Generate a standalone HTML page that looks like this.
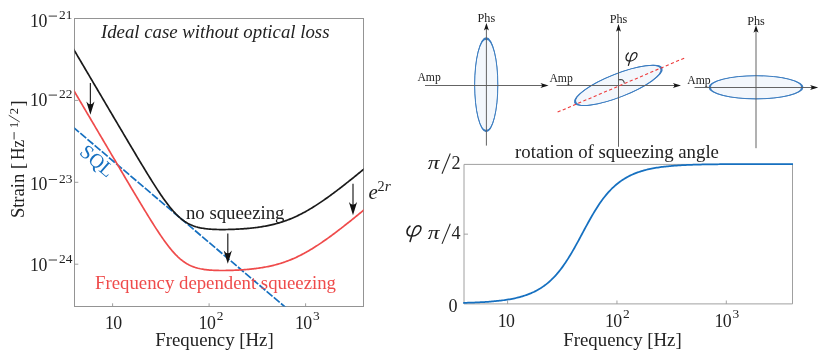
<!DOCTYPE html>
<html><head><meta charset="utf-8"><title>fig</title><style>html,body{margin:0;padding:0;background:#fff}body{width:830px;height:359px;overflow:hidden}svg{will-change:transform;opacity:0.9999}</style></head><body>
<svg width="830" height="359" viewBox="0 0 830 359" style="display:block;font-family:'Liberation Serif',serif" fill="#222">
<defs><clipPath id="cl"><rect x="74.5" y="18.5" width="289.0" height="288.0"/></clipPath><clipPath id="cr"><rect x="463.0" y="162.4" width="329.5" height="142.49999999999997"/></clipPath></defs>
<rect width="830" height="359" fill="#fff"/>
<rect x="74.5" y="18.5" width="289.0" height="288.0" fill="none" stroke="#949494" stroke-width="1"/>
<line x1="112.60" y1="306.5" x2="112.60" y2="303.3" stroke="#949494" stroke-width="0.9"/>
<line x1="209.10" y1="306.5" x2="209.10" y2="303.3" stroke="#949494" stroke-width="0.9"/>
<line x1="305.60" y1="306.5" x2="305.60" y2="303.3" stroke="#949494" stroke-width="0.9"/>
<line x1="74.5" y1="18.50" x2="78.3" y2="18.50" stroke="#949494" stroke-width="0.9"/>
<line x1="74.5" y1="100.40" x2="78.3" y2="100.40" stroke="#949494" stroke-width="0.9"/>
<line x1="74.5" y1="182.30" x2="78.3" y2="182.30" stroke="#949494" stroke-width="0.9"/>
<line x1="74.5" y1="264.20" x2="78.3" y2="264.20" stroke="#949494" stroke-width="0.9"/>
<g clip-path="url(#cl)" fill="none" stroke-linejoin="round">
<path d="M73.14,127.12 L305.60,324.41" stroke="#1670c0" stroke-width="1.7" stroke-dasharray="7.7,1.7"/>
<path d="M73.14,89.38 L74.26,91.29 L75.39,93.20 L76.52,95.11 L77.64,97.02 L78.77,98.93 L79.89,100.84 L81.02,102.75 L82.14,104.66 L83.27,106.57 L84.40,108.49 L85.52,110.40 L86.65,112.31 L87.77,114.22 L88.90,116.13 L90.03,118.04 L91.15,119.95 L92.28,121.86 L93.40,123.77 L94.53,125.68 L95.65,127.59 L96.78,129.50 L97.91,131.41 L99.03,133.32 L100.16,135.23 L101.28,137.14 L102.41,139.05 L103.54,140.96 L104.66,142.87 L105.79,144.78 L106.91,146.69 L108.04,148.60 L109.17,150.51 L110.29,152.42 L111.42,154.33 L112.54,156.24 L113.67,158.15 L114.79,160.05 L115.92,161.96 L117.05,163.87 L118.17,165.77 L119.30,167.68 L120.42,169.59 L121.55,171.49 L122.68,173.39 L123.80,175.30 L124.93,177.20 L126.05,179.10 L127.18,181.00 L128.30,182.90 L129.43,184.80 L130.56,186.69 L131.68,188.59 L132.81,190.48 L133.93,192.37 L135.06,194.26 L136.19,196.14 L137.31,198.03 L138.44,199.91 L139.56,201.78 L140.69,203.65 L141.81,205.52 L142.94,207.38 L144.07,209.24 L145.19,211.09 L146.32,212.93 L147.44,214.77 L148.57,216.60 L149.70,218.42 L150.82,220.23 L151.95,222.03 L153.07,223.81 L154.20,225.59 L155.32,227.35 L156.45,229.09 L157.58,230.82 L158.70,232.52 L159.83,234.21 L160.95,235.87 L162.08,237.52 L163.21,239.13 L164.33,240.72 L165.46,242.27 L166.58,243.80 L167.71,245.29 L168.84,246.74 L169.96,248.15 L171.09,249.53 L172.21,250.86 L173.34,252.14 L174.46,253.38 L175.59,254.58 L176.72,255.72 L177.84,256.81 L178.97,257.85 L180.09,258.84 L181.22,259.78 L182.35,260.67 L183.47,261.50 L184.60,262.29 L185.72,263.02 L186.85,263.71 L187.97,264.35 L189.10,264.94 L190.23,265.49 L191.35,266.00 L192.48,266.46 L193.60,266.89 L194.73,267.29 L195.86,267.65 L196.98,267.97 L198.11,268.27 L199.23,268.54 L200.36,268.79 L201.48,269.01 L202.61,269.21 L203.74,269.39 L204.86,269.55 L205.99,269.69 L207.11,269.82 L208.24,269.93 L209.37,270.03 L210.49,270.12 L211.62,270.20 L212.74,270.26 L213.87,270.32 L215.00,270.37 L216.12,270.40 L217.25,270.44 L218.37,270.46 L219.50,270.48 L220.62,270.49 L221.75,270.50 L222.88,270.50 L224.00,270.49 L225.13,270.48 L226.25,270.47 L227.38,270.45 L228.51,270.42 L229.63,270.40 L230.76,270.37 L231.88,270.33 L233.01,270.29 L234.13,270.25 L235.26,270.20 L236.39,270.15 L237.51,270.09 L238.64,270.03 L239.76,269.97 L240.89,269.90 L242.02,269.83 L243.14,269.75 L244.27,269.67 L245.39,269.58 L246.52,269.49 L247.64,269.39 L248.77,269.29 L249.90,269.19 L251.02,269.07 L252.15,268.95 L253.27,268.83 L254.40,268.70 L255.53,268.56 L256.65,268.42 L257.78,268.27 L258.90,268.11 L260.03,267.95 L261.16,267.78 L262.28,267.60 L263.41,267.41 L264.53,267.21 L265.66,267.01 L266.78,266.79 L267.91,266.57 L269.04,266.34 L270.16,266.10 L271.29,265.84 L272.41,265.58 L273.54,265.31 L274.67,265.03 L275.79,264.73 L276.92,264.43 L278.04,264.11 L279.17,263.78 L280.29,263.45 L281.42,263.09 L282.55,262.73 L283.67,262.36 L284.80,261.97 L285.92,261.57 L287.05,261.16 L288.18,260.73 L289.30,260.29 L290.43,259.84 L291.55,259.38 L292.68,258.90 L293.80,258.41 L294.93,257.91 L296.06,257.40 L297.18,256.87 L298.31,256.33 L299.43,255.78 L300.56,255.21 L301.69,254.63 L302.81,254.04 L303.94,253.44 L305.06,252.83 L306.19,252.20 L307.32,251.57 L308.44,250.92 L309.57,250.26 L310.69,249.59 L311.82,248.91 L312.94,248.22 L314.07,247.51 L315.20,246.80 L316.32,246.08 L317.45,245.35 L318.57,244.61 L319.70,243.86 L320.83,243.11 L321.95,242.34 L323.08,241.57 L324.20,240.79 L325.33,240.00 L326.45,239.20 L327.58,238.40 L328.71,237.59 L329.83,236.78 L330.96,235.95 L332.08,235.12 L333.21,234.29 L334.34,233.45 L335.46,232.61 L336.59,231.76 L337.71,230.90 L338.84,230.04 L339.96,229.18 L341.09,228.31 L342.22,227.43 L343.34,226.56 L344.47,225.68 L345.59,224.79 L346.72,223.90 L347.85,223.01 L348.97,222.12 L350.10,221.22 L351.22,220.32 L352.35,219.42 L353.48,218.51 L354.60,217.61 L355.73,216.70 L356.85,215.78 L357.98,214.87 L359.10,213.95 L360.23,213.03 L361.36,212.11 L362.48,211.19 L363.61,210.27 L364.73,209.34" stroke="#ef4b4b" stroke-width="1.7"/>
<path d="M73.14,48.43 L74.26,50.34 L75.39,52.25 L76.52,54.16 L77.64,56.07 L78.77,57.98 L79.89,59.89 L81.02,61.80 L82.14,63.71 L83.27,65.62 L84.40,67.54 L85.52,69.45 L86.65,71.36 L87.77,73.27 L88.90,75.18 L90.03,77.09 L91.15,79.00 L92.28,80.91 L93.40,82.82 L94.53,84.73 L95.65,86.64 L96.78,88.55 L97.91,90.46 L99.03,92.37 L100.16,94.28 L101.28,96.19 L102.41,98.10 L103.54,100.01 L104.66,101.92 L105.79,103.83 L106.91,105.74 L108.04,107.65 L109.17,109.56 L110.29,111.47 L111.42,113.38 L112.54,115.29 L113.67,117.20 L114.79,119.10 L115.92,121.01 L117.05,122.92 L118.17,124.82 L119.30,126.73 L120.42,128.64 L121.55,130.54 L122.68,132.44 L123.80,134.35 L124.93,136.25 L126.05,138.15 L127.18,140.05 L128.30,141.95 L129.43,143.85 L130.56,145.74 L131.68,147.64 L132.81,149.53 L133.93,151.42 L135.06,153.31 L136.19,155.19 L137.31,157.08 L138.44,158.96 L139.56,160.83 L140.69,162.70 L141.81,164.57 L142.94,166.43 L144.07,168.29 L145.19,170.14 L146.32,171.98 L147.44,173.82 L148.57,175.65 L149.70,177.47 L150.82,179.28 L151.95,181.08 L153.07,182.86 L154.20,184.64 L155.32,186.40 L156.45,188.14 L157.58,189.87 L158.70,191.57 L159.83,193.26 L160.95,194.92 L162.08,196.57 L163.21,198.18 L164.33,199.77 L165.46,201.32 L166.58,202.85 L167.71,204.34 L168.84,205.79 L169.96,207.20 L171.09,208.58 L172.21,209.91 L173.34,211.19 L174.46,212.43 L175.59,213.63 L176.72,214.77 L177.84,215.86 L178.97,216.90 L180.09,217.89 L181.22,218.83 L182.35,219.72 L183.47,220.55 L184.60,221.34 L185.72,222.07 L186.85,222.76 L187.97,223.40 L189.10,223.99 L190.23,224.54 L191.35,225.05 L192.48,225.51 L193.60,225.94 L194.73,226.34 L195.86,226.70 L196.98,227.02 L198.11,227.32 L199.23,227.59 L200.36,227.84 L201.48,228.06 L202.61,228.26 L203.74,228.44 L204.86,228.60 L205.99,228.74 L207.11,228.87 L208.24,228.98 L209.37,229.08 L210.49,229.17 L211.62,229.25 L212.74,229.31 L213.87,229.37 L215.00,229.42 L216.12,229.45 L217.25,229.49 L218.37,229.51 L219.50,229.53 L220.62,229.54 L221.75,229.55 L222.88,229.55 L224.00,229.54 L225.13,229.53 L226.25,229.52 L227.38,229.50 L228.51,229.47 L229.63,229.45 L230.76,229.42 L231.88,229.38 L233.01,229.34 L234.13,229.30 L235.26,229.25 L236.39,229.20 L237.51,229.14 L238.64,229.08 L239.76,229.02 L240.89,228.95 L242.02,228.88 L243.14,228.80 L244.27,228.72 L245.39,228.63 L246.52,228.54 L247.64,228.44 L248.77,228.34 L249.90,228.24 L251.02,228.12 L252.15,228.00 L253.27,227.88 L254.40,227.75 L255.53,227.61 L256.65,227.47 L257.78,227.32 L258.90,227.16 L260.03,227.00 L261.16,226.83 L262.28,226.65 L263.41,226.46 L264.53,226.26 L265.66,226.06 L266.78,225.84 L267.91,225.62 L269.04,225.39 L270.16,225.15 L271.29,224.89 L272.41,224.63 L273.54,224.36 L274.67,224.08 L275.79,223.78 L276.92,223.48 L278.04,223.16 L279.17,222.83 L280.29,222.50 L281.42,222.14 L282.55,221.78 L283.67,221.41 L284.80,221.02 L285.92,220.62 L287.05,220.21 L288.18,219.78 L289.30,219.34 L290.43,218.89 L291.55,218.43 L292.68,217.95 L293.80,217.46 L294.93,216.96 L296.06,216.45 L297.18,215.92 L298.31,215.38 L299.43,214.83 L300.56,214.26 L301.69,213.68 L302.81,213.09 L303.94,212.49 L305.06,211.88 L306.19,211.25 L307.32,210.62 L308.44,209.97 L309.57,209.31 L310.69,208.64 L311.82,207.96 L312.94,207.27 L314.07,206.56 L315.20,205.85 L316.32,205.13 L317.45,204.40 L318.57,203.66 L319.70,202.91 L320.83,202.16 L321.95,201.39 L323.08,200.62 L324.20,199.84 L325.33,199.05 L326.45,198.25 L327.58,197.45 L328.71,196.64 L329.83,195.83 L330.96,195.00 L332.08,194.17 L333.21,193.34 L334.34,192.50 L335.46,191.66 L336.59,190.81 L337.71,189.95 L338.84,189.09 L339.96,188.23 L341.09,187.36 L342.22,186.48 L343.34,185.61 L344.47,184.73 L345.59,183.84 L346.72,182.95 L347.85,182.06 L348.97,181.17 L350.10,180.27 L351.22,179.37 L352.35,178.47 L353.48,177.56 L354.60,176.66 L355.73,175.75 L356.85,174.83 L357.98,173.92 L359.10,173.00 L360.23,172.08 L361.36,171.16 L362.48,170.24 L363.61,169.32 L364.73,168.39" stroke="#1a1a1a" stroke-width="1.7"/>
</g>
<text x="30.10" y="27.0" font-size="17.8" letter-spacing="-0.6">10</text><line x1="48.70" y1="16.1" x2="57.00" y2="16.1" stroke="#222" stroke-width="0.9"/><text x="58.90" y="19.1" font-size="13.4" letter-spacing="0.1">21</text>
<text x="30.10" y="106.0" font-size="17.8" letter-spacing="-0.6">10</text><line x1="48.70" y1="95.1" x2="57.00" y2="95.1" stroke="#222" stroke-width="0.9"/><text x="58.90" y="98.1" font-size="13.4" letter-spacing="0.1">22</text>
<text x="30.10" y="190.4" font-size="17.8" letter-spacing="-0.6">10</text><line x1="48.70" y1="179.5" x2="57.00" y2="179.5" stroke="#222" stroke-width="0.9"/><text x="58.90" y="182.5" font-size="13.4" letter-spacing="0.1">23</text>
<text x="30.10" y="270.9" font-size="17.8" letter-spacing="-0.6">10</text><line x1="48.70" y1="260.0" x2="57.00" y2="260.0" stroke="#222" stroke-width="0.9"/><text x="58.90" y="263.0" font-size="13.4" letter-spacing="0.1">24</text>
<text x="104.90" y="328.9" font-size="17.8" letter-spacing="-0.6">10</text>
<text x="198.60" y="329.0" font-size="17.8" letter-spacing="-0.6">10</text><text x="216.70" y="320.4" font-size="13.4" letter-spacing="0.1">2</text>
<text x="294.90" y="329.0" font-size="17.8" letter-spacing="-0.6">10</text><text x="313.00" y="320.4" font-size="13.4" letter-spacing="0.1">3</text>
<text x="214.5" y="345.5" font-size="18.8" text-anchor="middle">Frequency [Hz]</text>
<g transform="translate(24.3,216.8) rotate(-90)"><text x="-1.3" y="0" font-size="18.8" textLength="44.3" lengthAdjust="spacingAndGlyphs">Strain</text><text x="47.7" y="0" font-size="18.6">[</text><text x="56.8" y="0" font-size="17.8" textLength="20.0" lengthAdjust="spacingAndGlyphs">Hz</text><line x1="77.3" y1="-10.2" x2="84.7" y2="-10.2" stroke="#222" stroke-width="0.9"/><text x="88.9" y="-6.3" font-size="12.6">1</text><line x1="94.9" y1="-4.6" x2="101.6" y2="-15.6" stroke="#222" stroke-width="0.85"/><text x="102.6" y="-6.3" font-size="12.6">2</text><text x="110.2" y="0" font-size="18.6">]</text></g>
<text x="215.2" y="38.1" font-size="18.8" font-style="italic" text-anchor="middle">Ideal case without optical loss</text>
<text x="235.2" y="219" font-size="18.8" text-anchor="middle">no squeezing</text>
<text x="215.5" y="289" font-size="18.8" text-anchor="middle" fill="#ef4b4b">Frequency dependent squeezing</text>
<text transform="translate(78.6,153.6) rotate(41)" font-size="20" fill="#1670c0">SQL</text>
<text x="368.5" y="199.3" font-size="21" font-style="italic">e</text>
<text x="377.6" y="190.8" font-size="14.2" ><tspan>2</tspan><tspan font-style="italic" font-size="15.5">r</tspan></text>
<line x1="90.4" y1="83" x2="90.4" y2="106.3" stroke="#2a2a2a" stroke-width="1.25"/><path d="M90.4,114.8 L86.30000000000001,101.6 Q90.4,107.06 94.5,101.6 Z" fill="#111"/>
<line x1="227.8" y1="233.6" x2="227.8" y2="255.3" stroke="#2a2a2a" stroke-width="1.25"/><path d="M227.8,263.8 L223.70000000000002,250.60000000000002 Q227.8,256.06 231.9,250.60000000000002 Z" fill="#111"/>
<line x1="353" y1="183.8" x2="353" y2="206.8" stroke="#2a2a2a" stroke-width="1.25"/><path d="M353,215.3 L348.9,202.10000000000002 Q353,207.56000000000003 357.1,202.10000000000002 Z" fill="#111"/>
<path d="M464.0,164.4 H792.5 V303.9 H464.0 Z" fill="none" stroke="#a0a0a0" stroke-width="1"/>
<line x1="507.60" y1="303.9" x2="507.60" y2="300.5" stroke="#9a9a9a" stroke-width="0.9"/>
<line x1="616.95" y1="303.9" x2="616.95" y2="300.5" stroke="#9a9a9a" stroke-width="0.9"/>
<line x1="726.30" y1="303.9" x2="726.30" y2="300.5" stroke="#9a9a9a" stroke-width="0.9"/>
<line x1="464.0" y1="234.15" x2="468.0" y2="234.15" stroke="#9a9a9a" stroke-width="0.9"/>
<path d="M464.09,302.84 L465.35,302.80 L466.62,302.77 L467.89,302.73 L469.15,302.69 L470.42,302.65 L471.68,302.61 L472.95,302.56 L474.22,302.51 L475.48,302.46 L476.75,302.40 L478.02,302.35 L479.28,302.29 L480.55,302.22 L481.82,302.16 L483.08,302.08 L484.35,302.01 L485.62,301.93 L486.88,301.85 L488.15,301.76 L489.42,301.67 L490.68,301.57 L491.95,301.47 L493.22,301.36 L494.48,301.24 L495.75,301.12 L497.02,300.99 L498.28,300.86 L499.55,300.72 L500.82,300.57 L502.08,300.41 L503.35,300.25 L504.62,300.07 L505.88,299.88 L507.15,299.69 L508.42,299.48 L509.68,299.27 L510.95,299.04 L512.22,298.80 L513.48,298.54 L514.75,298.27 L516.02,297.99 L517.28,297.69 L518.55,297.38 L519.82,297.05 L521.08,296.70 L522.35,296.33 L523.62,295.94 L524.88,295.53 L526.15,295.10 L527.42,294.64 L528.68,294.16 L529.95,293.66 L531.22,293.13 L532.48,292.57 L533.75,291.98 L535.01,291.36 L536.28,290.70 L537.55,290.01 L538.81,289.29 L540.08,288.53 L541.35,287.73 L542.61,286.88 L543.88,286.00 L545.15,285.07 L546.41,284.09 L547.68,283.06 L548.95,281.99 L550.21,280.86 L551.48,279.68 L552.75,278.44 L554.01,277.15 L555.28,275.79 L556.55,274.38 L557.81,272.91 L559.08,271.37 L560.35,269.77 L561.61,268.11 L562.88,266.39 L564.15,264.60 L565.41,262.75 L566.68,260.83 L567.95,258.86 L569.21,256.83 L570.48,254.75 L571.75,252.61 L573.01,250.43 L574.28,248.20 L575.55,245.94 L576.81,243.64 L578.08,241.32 L579.35,238.97 L580.61,236.61 L581.88,234.24 L583.15,231.86 L584.41,229.50 L585.68,227.14 L586.95,224.80 L588.21,222.49 L589.48,220.21 L590.75,217.96 L592.01,215.76 L593.28,213.60 L594.55,211.49 L595.81,209.43 L597.08,207.43 L598.35,205.49 L599.61,203.61 L600.88,201.79 L602.14,200.03 L603.41,198.34 L604.68,196.71 L605.94,195.14 L607.21,193.64 L608.48,192.19 L609.74,190.81 L611.01,189.49 L612.28,188.22 L613.54,187.02 L614.81,185.86 L616.08,184.76 L617.34,183.71 L618.61,182.71 L619.88,181.76 L621.14,180.85 L622.41,179.99 L623.68,179.17 L624.94,178.38 L626.21,177.64 L627.48,176.94 L628.74,176.27 L630.01,175.63 L631.28,175.02 L632.54,174.45 L633.81,173.90 L635.08,173.39 L636.34,172.89 L637.61,172.43 L638.88,171.99 L640.14,171.57 L641.41,171.17 L642.68,170.79 L643.94,170.43 L645.21,170.09 L646.48,169.77 L647.74,169.46 L649.01,169.17 L650.28,168.90 L651.54,168.64 L652.81,168.39 L654.08,168.16 L655.34,167.93 L656.61,167.72 L657.88,167.52 L659.14,167.33 L660.41,167.16 L661.68,166.99 L662.94,166.82 L664.21,166.67 L665.48,166.53 L666.74,166.39 L668.01,166.26 L669.27,166.14 L670.54,166.02 L671.81,165.91 L673.07,165.81 L674.34,165.71 L675.61,165.61 L676.87,165.53 L678.14,165.44 L679.41,165.36 L680.67,165.29 L681.94,165.22 L683.21,165.15 L684.47,165.09 L685.74,165.03 L687.01,164.97 L688.27,164.92 L689.54,164.86 L690.81,164.82 L692.07,164.77 L693.34,164.73 L694.61,164.69 L695.87,164.65 L697.14,164.61 L698.41,164.58 L699.67,164.55 L700.94,164.52 L702.21,164.49 L703.47,164.46 L704.74,164.44 L706.01,164.42 L707.27,164.39 L708.54,164.37 L709.81,164.35 L711.07,164.34 L712.34,164.32 L713.61,164.30 L714.87,164.29 L716.14,164.27 L717.41,164.26 L718.67,164.25 L719.94,164.24 L721.21,164.23 L722.47,164.22 L723.74,164.21 L725.01,164.20 L726.27,164.19 L727.54,164.18 L728.81,164.18 L730.07,164.17 L731.34,164.17 L732.60,164.16 L733.87,164.16 L735.14,164.15 L736.40,164.15 L737.67,164.14 L738.94,164.14 L740.20,164.14 L741.47,164.13 L742.74,164.13 L744.00,164.13 L745.27,164.12 L746.54,164.12 L747.80,164.12 L749.07,164.12 L750.34,164.12 L751.60,164.12 L752.87,164.11 L754.14,164.11 L755.40,164.11 L756.67,164.11 L757.94,164.11 L759.20,164.11 L760.47,164.11 L761.74,164.11 L763.00,164.11 L764.27,164.11 L765.54,164.11 L766.80,164.10 L768.07,164.10 L769.34,164.10 L770.60,164.10 L771.87,164.10 L773.14,164.10 L774.40,164.10 L775.67,164.10 L776.94,164.10 L778.20,164.10 L779.47,164.10 L780.74,164.10 L782.00,164.10 L783.27,164.10 L784.54,164.10 L785.80,164.10 L787.07,164.10 L788.34,164.10 L789.60,164.10 L790.87,164.10 L792.14,164.10" fill="none" stroke="#1670c0" stroke-width="1.75" stroke-linejoin="round" stroke-linecap="square"/>
<text x="497.70" y="326.8" font-size="17.8" letter-spacing="-0.6">10</text>
<text x="604.90" y="326.8" font-size="17.8" letter-spacing="-0.6">10</text><text x="623.00" y="318.2" font-size="13.4" letter-spacing="0.1">2</text>
<text x="714.40" y="326.8" font-size="17.8" letter-spacing="-0.6">10</text><text x="732.50" y="318.2" font-size="13.4" letter-spacing="0.1">3</text>
<text x="622.5" y="345.5" font-size="18.8" text-anchor="middle">Frequency [Hz]</text>
<text x="617.0" y="157.6" font-size="18.8" text-anchor="middle">rotation of squeezing angle</text>
<text x="427.8" y="168.7" font-size="19.5" font-style="italic" textLength="11.8" lengthAdjust="spacingAndGlyphs">π</text><line x1="442.0" y1="173.7" x2="450.3" y2="153.5" stroke="#222" stroke-width="1.05"/><text x="451.4" y="168.7" font-size="18.1">2</text>
<text x="427.8" y="238.9" font-size="19.5" font-style="italic" textLength="11.8" lengthAdjust="spacingAndGlyphs">π</text><line x1="442.0" y1="243.9" x2="450.3" y2="223.70000000000002" stroke="#222" stroke-width="1.05"/><text x="451.4" y="238.9" font-size="18.1">4</text>
<text x="448.6" y="311.9" font-size="18.1">0</text>
<path d="M2.4,0.3 C0.8,1.6 0,3.2 0,5 C0,7.3 1.8,8.4 4,8.4 C7.5,8.4 11,5.2 11,2 C11,0.6 10,0 8.8,0 C6.5,0 5,3.5 4.4,6 L2.4,12.7" transform="translate(407.0,225.8) scale(1.27,1.23)" fill="none" stroke="#1e1e1e" stroke-width="1.2" stroke-linecap="round" stroke-linejoin="round"/>
<g transform="translate(486.25,84.8) rotate(-90) scale(4,1)"><circle cx="0" cy="0" r="11.58" fill="#f3f7fc" stroke="#3b7cc0" stroke-width="0.58"/></g>
<ellipse cx="486.25" cy="84.8" rx="46.32" ry="11.58" transform="rotate(-90 486.25 84.8)" fill="none" stroke="#3b7cc0" stroke-width="0.95"/>
<line x1="486.4" y1="145.6" x2="486.4" y2="27.9" stroke="#5c5c5c" stroke-width="0.95"/><path d="M486.4,22.9 L483.9,30.5 Q486.4,27.5 488.9,30.5 Z" fill="#161616"/>
<line x1="425" y1="85.5" x2="543.6" y2="85.5" stroke="#5c5c5c" stroke-width="0.95"/><path d="M548.6,85.5 L540.4,83.0 Q543.6,85.5 540.4,88.0 Z" fill="#161616"/>
<text x="486.4" y="21.9" font-size="12.2" text-anchor="middle">Phs</text>
<text x="417.4" y="81.0" font-size="11.7">Amp</text>
<g transform="translate(618.3,85.4) rotate(-21.5) scale(4,1)"><circle cx="0" cy="0" r="11.58" fill="#f3f7fc" stroke="#3b7cc0" stroke-width="0.58"/></g>
<ellipse cx="618.3" cy="85.4" rx="46.32" ry="11.58" transform="rotate(-21.5 618.3 85.4)" fill="none" stroke="#3b7cc0" stroke-width="0.95"/>
<line x1="618.5" y1="146.8" x2="618.5" y2="29.1" stroke="#5c5c5c" stroke-width="0.95"/><path d="M618.5,24.1 L616.0,31.700000000000003 Q618.5,28.700000000000003 621.0,31.700000000000003 Z" fill="#161616"/>
<line x1="556.5" y1="85.5" x2="676" y2="85.5" stroke="#5c5c5c" stroke-width="0.95"/><path d="M681,85.5 L672.8,83.0 Q676.0,85.5 672.8,88.0 Z" fill="#161616"/>
<text x="618.5" y="23.0" font-size="12.2" text-anchor="middle">Phs</text>
<text x="549.4" y="82.1" font-size="11.7">Amp</text>
<g transform="translate(756.0,87.3) rotate(0) scale(4,1)"><circle cx="0" cy="0" r="11.58" fill="#f3f7fc" stroke="#3b7cc0" stroke-width="0.58"/></g>
<ellipse cx="756.0" cy="87.3" rx="46.32" ry="11.58" transform="rotate(0 756.0 87.3)" fill="none" stroke="#3b7cc0" stroke-width="0.95"/>
<line x1="756.0" y1="148.2" x2="756.0" y2="30.2" stroke="#5c5c5c" stroke-width="0.95"/><path d="M756.0,25.2 L753.5,32.8 Q756.0,29.799999999999997 758.5,32.8 Z" fill="#161616"/>
<line x1="694.5" y1="87.5" x2="813.2" y2="87.5" stroke="#5c5c5c" stroke-width="0.95"/><path d="M818.2,87.5 L810.0,85.0 Q813.2,87.5 810.0,90.0 Z" fill="#161616"/>
<text x="756.0" y="24.8" font-size="12.2" text-anchor="middle">Phs</text>
<text x="687.2" y="84.3" font-size="11.7">Amp</text>
<line x1="557.6" y1="112.1" x2="685.2" y2="57.7" stroke="#ee3b3b" stroke-width="1.1" stroke-dasharray="3.2,2.4"/>
<path d="M618.5,79.7 L620.7,79.5 Q624.0,79.7 624.3,83.2" fill="none" stroke="#444" stroke-width="1.05"/>
<path d="M2.4,0.3 C0.8,1.6 0,3.2 0,5 C0,7.3 1.8,8.4 4,8.4 C7.5,8.4 11,5.2 11,2 C11,0.6 10,0 8.8,0 C6.5,0 5,3.5 4.4,6 L2.4,12.7" transform="translate(626.0,52.7)" fill="none" stroke="#1e1e1e" stroke-width="1.25" stroke-linecap="round" stroke-linejoin="round"/>
</svg>
</body></html>
